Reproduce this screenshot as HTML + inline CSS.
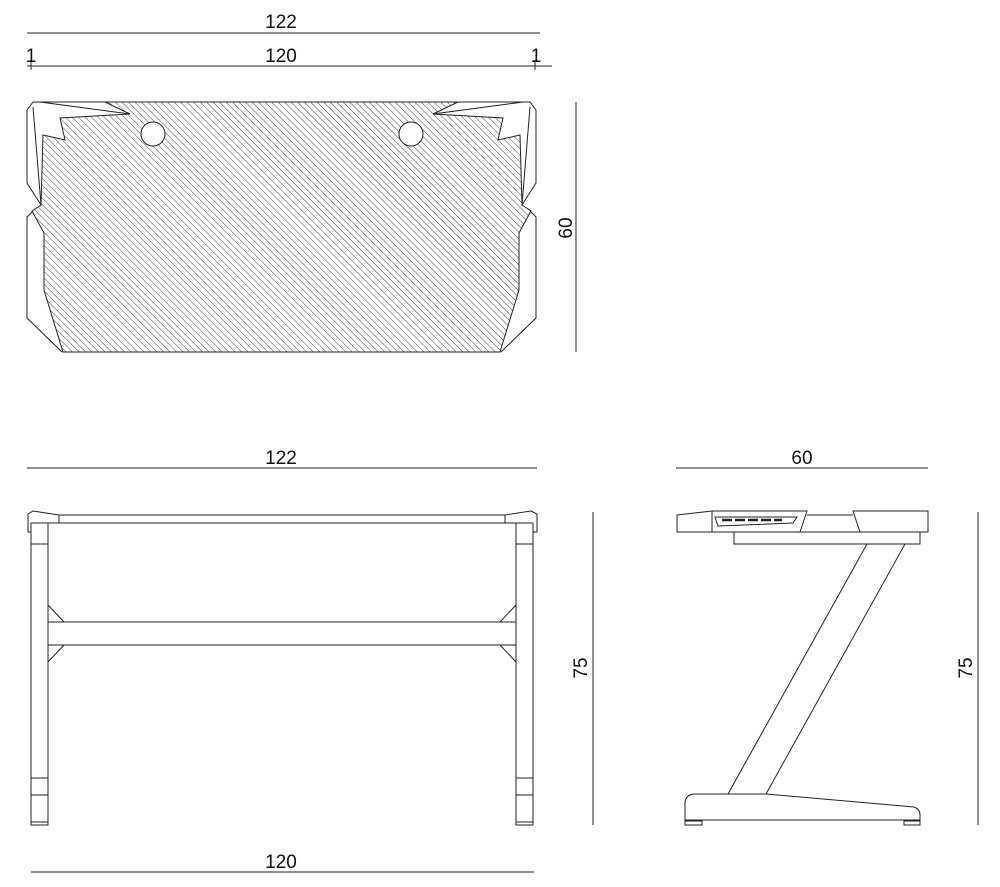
<!DOCTYPE html>
<html><head><meta charset="utf-8"><style>
html,body{margin:0;padding:0;background:#fff;}
svg{display:block;}
text{font-family:"Liberation Sans",Arial,sans-serif;font-size:19px;fill:#111;}
</style></head><body>
<svg width="1000" height="887" viewBox="0 0 1000 887" xmlns="http://www.w3.org/2000/svg">
<defs>
<pattern id="h" width="4.6" height="4.6" patternUnits="userSpaceOnUse" patternTransform="rotate(-45)">
<line x1="0" y1="0" x2="0" y2="4.6" stroke="#333" stroke-width="0.9"/>
</pattern>
<clipPath id="hc">
<path id="hp" d="M105,102 L458,102 L433,114 L503,118 L498,140 L520,135 L522,205 L531,211 L519,233 L519,290 L500,352 L63,352 L44,290 L44,233 L32,211 L41,205 L43,135 L65,140 L60,118 L130,114 Z"/>
</clipPath>
</defs>
<g fill="none" stroke="#222" stroke-width="1">
<line x1="27" y1="33" x2="540" y2="33"/>
<line x1="27" y1="66" x2="552" y2="66"/>
<line x1="31" y1="60" x2="31" y2="70"/>
<line x1="535" y1="60" x2="535" y2="70"/>
<line x1="576" y1="102" x2="576" y2="352"/>
<rect x="0" y="0" width="1000" height="887" fill="url(#h)" clip-path="url(#hc)" stroke="none"/>
<use href="#hp"/>
<path d="M33,102 L530,102 L536,110 L536,183 L522,205 M33,102 L27,110 L27,183 L41,205"/>
<path d="M40,102 L130,114 M523,102 L433,114"/>
<path d="M33,107 L41,205 M530,107 L522,205"/>
<path d="M33,211 L27,217 L27,318 L62,352 M530,211 L536,217 L536,318 L501,352"/>
<circle cx="153" cy="134" r="12" fill="#fff"/>
<circle cx="411" cy="134" r="12" fill="#fff"/>
<line x1="27" y1="468" x2="537" y2="468"/>
<line x1="31" y1="872" x2="534" y2="872"/>
<line x1="593" y1="512" x2="593" y2="825"/>
<path d="M59,515 L505,515 M59,523 L505,523 M59,515 L59,523 M505,515 L505,523"/>
<path d="M59,515 L33,511 L28,514 L28,532 L31,532 M505,515 L531,511 L537,514 L537,532 L533,532"/>
<path d="M31,523 L59,523 M505,523 L533,523"/>
<rect x="31" y="523" width="17" height="299"/>
<rect x="516" y="523" width="17" height="299"/>
<path d="M31,544 L48,544 M31,778 L48,778 M31,795 L48,795 M516,544 L533,544 M516,778 L533,778 M516,795 L533,795"/>
<rect x="31" y="822" width="17" height="3"/>
<rect x="516" y="822" width="17" height="3"/>
<rect x="48" y="622" width="468" height="23"/>
<path d="M48,605 L64,622 M48,662 L64,645 M516,605 L500,622 M516,662 L500,645"/>
<line x1="676" y1="468" x2="928" y2="468"/>
<line x1="978" y1="512" x2="978" y2="825"/>
<path d="M677,515 L712,511 L807,511 L800,532 L677,532 Z"/>
<line x1="712" y1="511" x2="712" y2="532"/>
<path d="M715,517 L797,517 L793,523 L718,526 Z"/>
<path d="M722,520 h10 M735,520 h10 M748,520 h10 M761,520 h10 M774,520 h8" stroke-width="2.5"/>
<path d="M807,515 L853,515"/>
<path d="M853,511 L928,511 L928,532 L860,532 Z"/>
<rect x="734" y="532" width="186" height="12"/>
<path d="M867,544 L728,794 M905,544 L766,794"/>
<path d="M685,820 L685,802 Q686,795 694,794 L766,794 L914,807 Q920,809 920,815 L920,820 Z"/>
<rect x="685" y="821" width="17" height="4"/>
<rect x="904" y="821" width="16" height="4"/>
</g>
<text x="281" y="28" text-anchor="middle">122</text>
<text x="281" y="62" text-anchor="middle">120</text>
<text x="31" y="62" text-anchor="middle">1</text>
<text x="536" y="62" text-anchor="middle">1</text>
<text transform="translate(572,228) rotate(-90)" text-anchor="middle">60</text>
<text x="281" y="464" text-anchor="middle">122</text>
<text x="281" y="868" text-anchor="middle">120</text>
<text transform="translate(587,668) rotate(-90)" text-anchor="middle">75</text>
<text x="802" y="464" text-anchor="middle">60</text>
<text transform="translate(972,668) rotate(-90)" text-anchor="middle">75</text>
</svg>
</body></html>
